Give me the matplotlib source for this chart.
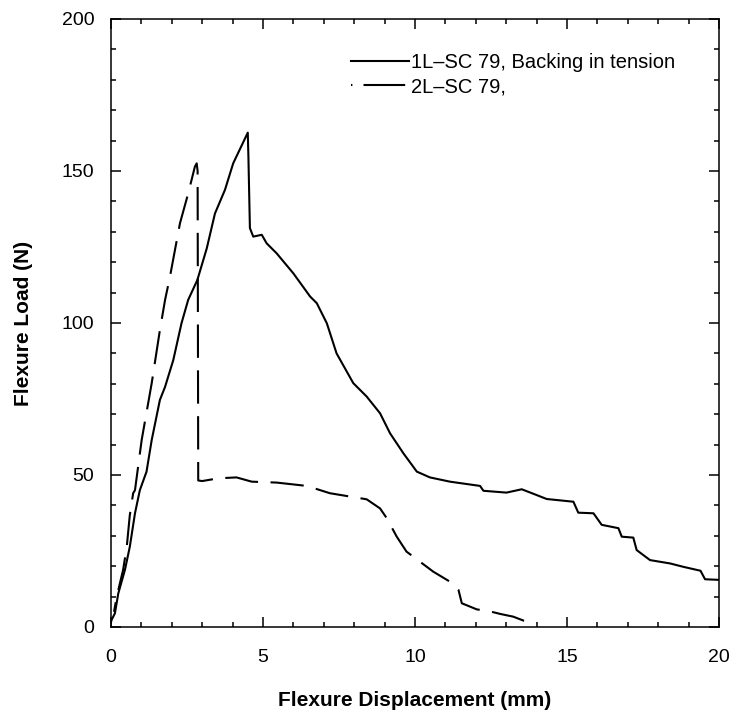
import matplotlib
matplotlib.use('Agg')
import matplotlib.pyplot as plt
from matplotlib.lines import Line2D
from matplotlib.ticker import MultipleLocator

plt.rcParams['font.family'] = ['Liberation Sans', 'DejaVu Sans']
plt.rcParams['lines.scale_dashes'] = False

# 1L-SC 79, backing in tension (solid)
disp_1l = [0, 0.02, 0.13, 0.24, 0.46, 0.62, 0.79, 0.95, 1.17, 1.34, 1.61, 1.78, 2.05, 2.32,
           2.54, 2.84, 3.15, 3.42, 3.75, 4.02, 4.5, 4.52, 4.57, 4.68, 4.96, 5.12, 5.45, 6.0,
           6.55, 6.77, 7.1, 7.42, 7.97, 8.41, 8.85, 9.18, 9.62, 10.06, 10.49, 11.15, 12.14,
           12.25, 13.01, 13.51, 14.0, 14.33, 15.21, 15.37, 15.87, 16.14, 16.69, 16.8, 17.18,
           17.29, 17.73, 18.39, 18.82, 19.39, 19.54, 20]
load_1l = [1.5, 2.3, 4.5, 11, 18.8, 26.4, 37.4, 45, 51.1, 61.5, 74.7, 79, 87.8, 99.9,
           107.6, 114.1, 124.5, 136, 143.8, 152.5, 162.6, 155, 131.2, 128.4, 129, 126.2, 122.9, 116.3,
           108.7, 106.5, 99.9, 90, 80.2, 75.8, 70.3, 63.7, 57.1, 51.1, 49.2, 47.8, 46.4,
           44.8, 44.2, 45.3, 43.4, 42.1, 41.2, 37.6, 37.4, 33.6, 32.5, 29.7, 29.4,
           25.3, 22.0, 20.9, 19.8, 18.5, 15.7, 15.5]

# 2L-SC 79 (dashed)
disp_2l = [0.1, 0.19, 0.4, 0.52, 0.62, 0.73, 0.79, 1.01, 1.34, 1.61, 1.78, 1.94, 2.27, 2.54,
           2.76, 2.82, 2.85, 2.87, 3.0, 3.53, 4.13, 4.63, 5.45, 6.44, 7.2, 8.41, 8.85, 9.07,
           9.4, 9.72, 10.16, 10.6, 11.15, 11.43, 11.54, 12.03, 12.52, 12.8, 13.23, 13.57, 14.0]
load_2l = [5, 10, 18.8, 26.4, 36.8, 44, 45, 61.5, 80.2, 97.7, 107.6, 115.2, 132.8, 142.6,
           151.4, 152.5, 150, 48.2, 48.0, 48.9, 49.2, 47.8, 47.5, 46.4, 44, 42, 39, 35.8,
           29.7, 24.8, 21.5, 18.2, 14.9, 12.2, 7.8, 5.8, 5.0, 4.3, 3.4, 2.1, 1.4]

labels = ['1L\u2013SC 79, Backing in tension', '2L\u2013SC 79,']

fig = plt.figure(figsize=(7.30, 7.12), dpi=100)
ax = fig.add_axes([0.152, 0.1194, 0.833, 0.854])

ax.plot(disp_1l, load_1l, '-', color='black', linewidth=1.5)
ax.plot(disp_2l, load_2l, color='black', linewidth=1.5, linestyle=(17, (24, 9)))

ax.set_xlim(0, 20)
ax.set_ylim(0, 200)
ax.xaxis.set_major_locator(MultipleLocator(5))
ax.xaxis.set_minor_locator(MultipleLocator(1))
ax.yaxis.set_major_locator(MultipleLocator(50))
ax.yaxis.set_minor_locator(MultipleLocator(10))
ax.tick_params(which='both', direction='in', top=True, right=True, width=1.1, labelsize=14)
ax.tick_params(which='major', length=7)
ax.tick_params(which='minor', length=3.5)
ax.tick_params(axis='x', pad=16)
ax.tick_params(axis='y', pad=12)
for s in ax.spines.values():
    s.set_linewidth(1.1)

ax.set_xlabel('Flexure Displacement (mm)', fontsize=15, fontweight='bold', labelpad=18)
ax.set_ylabel('Flexure Load (N)', fontsize=15, fontweight='bold', labelpad=21)

handles = [Line2D([], [], color='black', linewidth=1.5),
           Line2D([], [], color='black', linewidth=1.5, linestyle=(0, (1, 8, 30, 4)))]
ax.legend(handles, labels, loc='upper left', bbox_to_anchor=(0.379, 0.96), frameon=False,
          fontsize=14.5, handlelength=2.85, handletextpad=0.12, labelspacing=0.25, borderpad=0)

fig.savefig('out.png', dpi=100)
